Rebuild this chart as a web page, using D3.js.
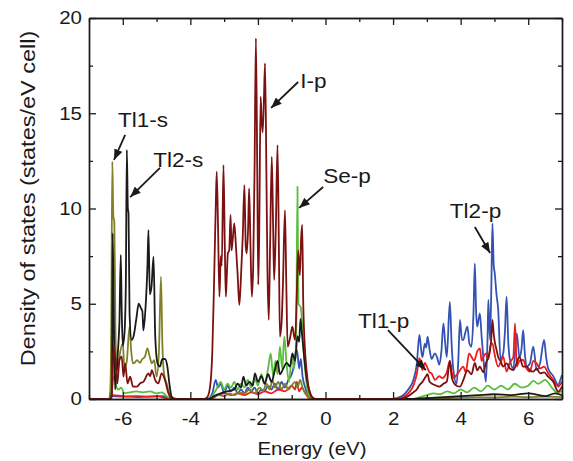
<!DOCTYPE html>
<html>
<head>
<meta charset="utf-8">
<script src="https://d3js.org/d3.v7.min.js"></script>
<style>
  body { margin: 0; background: #fff; }
  text { font-family: "Liberation Sans", Arial, sans-serif; fill: #1a1a1a; }
</style>
</head>
<body>
<div id="chart"></div>
<script>
const margin = {top: 18, right: 11, bottom: 62, left: 89},
      width = 573 - margin.left - margin.right,
      height = 461 - margin.top - margin.bottom;

const STRETCH = 1.1;

const xMajorTicks = [-6, -4, -2, 0, 2, 4, 6];
const xMinorTicks = [-7, -5, -3, -1, 1, 3, 5, 7];
const yMajorTicks = [0, 5, 10, 15, 20];
const yMinorTicks = [2.5, 7.5, 12.5, 17.5];

// Tl1-s (olive)
const tl1s = [[-7,0],[-6.42,0],[-6.37,0.4],[-6.34,4.0],[-6.31,12.46],[-6.28,9.6],[-6.25,9.3],[-6.22,4.0],
  [-6.19,1.87],[-6.15,1.5],[-6.1,2.2],[-6.0,2.92],[-5.95,1.6],[-5.88,2.0],[-5.8,3.8],[-5.75,2.5],
  [-5.7,1.87],[-5.65,1.9],[-5.58,2.04],[-5.49,1.9],[-5.42,2.1],[-5.35,2.2],[-5.27,2.66],[-5.2,2.2],
  [-5.14,1.87],[-5.07,2.04],[-5.0,1.17],[-4.93,2.5],[-4.87,6.42],[-4.83,3.0],[-4.78,1.34],[-4.7,0.8],
  [-4.62,0.3],[-4.5,0.05],[-4.3,0],
  [-3.45,0],[-3.3,0.1],[-3.15,0.2],[-3.0,0.15],[-2.85,0.3],[-2.7,0.2],[-2.55,0.35],[-2.4,0.3],
  [-2.25,0.5],[-2.1,0.3],[-1.95,0.6],[-1.85,0.4],[-1.75,0.8],[-1.65,0.5],[-1.57,1.0],[-1.5,0.6],
  [-1.4,0.9],[-1.3,0.5],[-1.2,0.8],[-1.1,0.5],[-1.0,0.7],[-0.9,0.9],[-0.83,0.6],[-0.75,1.0],
  [-0.68,0.6],[-0.58,0.3],[-0.45,0.05],[-0.3,0],
  [2.5,0],[3,0.05],[3.5,0.05],[4,0.08],[4.5,0.1],[5,0.08],[5.5,0.12],[6,0.1],[6.5,0.12],[7,0.1]];

// Tl2-s (black)
const tl2s = [[-7,0],[-6.36,0],[-6.32,0.5],[-6.3,8.7],[-6.27,5.0],[-6.23,0.5],[-6.18,1.5],[-6.13,2.9],
  [-6.1,4.0],[-6.06,7.56],[-6.03,4.5],[-6.0,2.8],[-5.95,3.45],[-5.91,6.0],[-5.88,13.07],[-5.85,10.0],
  [-5.83,9.75],[-5.8,4.5],[-5.74,3.1],[-5.68,3.3],[-5.6,4.2],[-5.53,5.0],[-5.47,4.8],[-5.42,4.6],
  [-5.39,3.6],[-5.33,4.7],[-5.27,7.0],[-5.24,8.87],[-5.2,5.5],[-5.15,5.9],[-5.09,7.47],[-5.04,3.3],
  [-4.97,1.87],[-4.9,1.7],[-4.83,2.1],[-4.75,2.1],[-4.68,1.7],[-4.62,0.8],[-4.55,0.1],[-4.45,0],
  [-3.45,0],[-3.3,0.15],[-3.1,0.3],[-2.9,0.4],[-2.7,0.5],[-2.6,0.8],[-2.5,0.6],[-2.43,1.17],
  [-2.35,0.7],[-2.25,0.9],[-2.15,0.7],[-2.09,1.35],[-2.0,0.9],[-1.9,1.2],[-1.8,0.8],[-1.7,1.3],
  [-1.6,0.9],[-1.5,1.5],[-1.42,2.0],[-1.35,1.3],[-1.25,1.6],[-1.15,1.9],[-1.05,1.7],[-0.98,2.4],
  [-0.9,2.0],[-0.83,3.3],[-0.78,3.0],[-0.74,4.2],[-0.7,3.5],[-0.62,2.0],[-0.55,1.0],[-0.45,0.3],
  [-0.35,0],
  [2.5,0],[3.0,0.05],[3.5,0.1],[4.0,0.15],[4.5,0.2],[5.0,0.25],[5.5,0.2],[6.0,0.3],[6.5,0.15],
  [6.8,0.3],[7.0,0.2]];

// I-p (maroon)
const ip = [[-7,0],[-6.38,0],[-6.33,0.1],[-6.26,2.84],[-6.2,1.52],[-6.16,0.82],[-6.1,2.04],[-6.03,2.22],
  [-5.98,1.17],[-5.93,1.87],[-5.86,0.82],[-5.78,1.17],[-5.7,0.65],[-5.58,0.65],[-5.49,0.82],
  [-5.39,0.9],[-5.24,1.34],[-5.19,1.2],[-5.14,1.52],[-5.04,0.99],[-4.95,0.82],[-4.85,1.34],
  [-4.75,0.99],[-4.65,0.3],[-4.55,0],
  [-3.6,0],[-3.5,0.1],[-3.42,0.6],[-3.35,2.5],[-3.3,6.0],[-3.25,10.0],[-3.22,11.93],[-3.18,9.0],
  [-3.14,5.37],[-3.1,7.5],[-3.07,7.0],[-3.02,12.28],[-2.98,8.0],[-2.95,5.37],[-2.92,6.5],[-2.89,7.65],
  [-2.85,7.8],[-2.81,9.66],[-2.78,7.8],[-2.74,8.5],[-2.7,9.22],[-2.65,8.0],[-2.6,6.5],[-2.55,4.94],
  [-2.5,6.5],[-2.45,8.5],[-2.4,11.23],[-2.36,8.0],[-2.33,7.65],[-2.29,9.0],[-2.26,11.05],[-2.22,8.0],
  [-2.18,5.37],[-2.14,7.0],[-2.1,12.0],[-2.06,18.93],[-2.02,12.0],[-1.99,6.0],[-1.96,9.0],
  [-1.92,15.87],[-1.89,14.6],[-1.86,14.0],[-1.82,15.9],[-1.79,17.62],[-1.75,12.0],[-1.72,7.0],
  [-1.68,4.15],[-1.64,8.0],[-1.59,12.72],[-1.55,9.0],[-1.52,6.25],[-1.47,9.0],[-1.42,13.33],
  [-1.38,8.0],[-1.35,3.27],[-1.3,4.0],[-1.26,6.0],[-1.2,9.91],[-1.16,6.0],[-1.12,2.75],[-1.05,3.2],
  [-0.98,3.8],[-0.93,3.3],[-0.9,3.1],[-0.85,5.5],[-0.81,7.8],[-0.76,6.5],[-0.72,8.5],[-0.69,9.14],
  [-0.66,5.2],[-0.62,3.0],[-0.56,1.5],[-0.5,0.6],[-0.42,0.15],[-0.3,0],
  [2.2,0],[2.4,0.1],[2.6,0.35],[2.7,0.5],[2.78,0.73],[2.87,0.9],[2.94,1.1],[3.02,1.3],[3.08,0.9],
  [3.14,0.82],[3.24,0.73],[3.37,0.65],[3.49,0.8],[3.59,0.91],[3.68,2.0],[3.73,1.2],[3.78,0.9],
  [3.88,0.7],[3.98,0.65],[4.08,1.0],[4.2,1.5],[4.32,1.3],[4.42,1.9],[4.49,1.5],[4.57,1.7],[4.67,1.4],
  [4.75,1.9],[4.82,2.2],[4.9,3.0],[4.94,4.15],[4.98,3.4],[5.01,3.0],[5.06,2.6],[5.11,2.22],[5.18,2.0],
  [5.26,1.7],[5.36,1.87],[5.46,1.6],[5.56,1.52],[5.66,1.9],[5.74,2.22],[5.85,1.7],[5.95,1.7],
  [6.05,1.5],[6.15,1.44],[6.25,1.6],[6.35,1.35],[6.47,1.4],[6.59,1.17],[6.74,0.9],[6.89,0.39],
  [7.0,0.65]];

// Se-p (green)
const sep = [[-7,0],[-6.4,0],[-6.33,0.3],[-6.3,0.9],[-6.25,1.2],[-6.2,0.7],[-6.13,0.5],[-6.05,0.6],
  [-5.95,0.3],[-5.8,0.35],[-5.6,0.4],[-5.4,0.35],[-5.2,0.4],[-5.0,0.3],[-4.85,0.35],[-4.7,0.15],
  [-4.55,0],
  [-3.45,0],[-3.3,0.3],[-3.2,0.6],[-3.1,0.9],[-3.0,0.5],[-2.9,0.8],[-2.8,0.6],[-2.7,0.9],[-2.6,0.5],
  [-2.5,0.8],[-2.4,0.6],[-2.3,1.0],[-2.2,0.6],[-2.1,1.1],[-2.0,0.7],[-1.9,1.3],[-1.8,0.8],[-1.7,1.6],
  [-1.62,2.4],[-1.55,1.2],[-1.48,2.0],[-1.42,1.3],[-1.35,2.75],[-1.28,1.6],[-1.22,3.27],[-1.15,1.8],
  [-1.08,0.9],[-1.0,2.2],[-0.93,1.6],[-0.87,3.0],[-0.83,11.15],[-0.8,5.0],[-0.73,4.8],[-0.65,2.6],
  [-0.56,0.8],[-0.46,0.1],[-0.35,0],
  [2.6,0],[2.8,0.1],[3.0,0.2],[3.2,0.3],[3.4,0.25],[3.6,0.4],[3.8,0.3],[4.0,0.5],[4.2,0.35],
  [4.4,0.6],[4.6,0.4],[4.8,0.7],[5.0,0.5],[5.2,0.7],[5.4,0.5],[5.6,0.8],[5.8,0.6],[6.0,0.7],
  [6.15,0.95],[6.3,0.8],[6.5,1.0],[6.7,0.6],[6.85,0.35],[7.0,0.4]];

// Tl2-p (blue)
const tl2p = [[-7,0],[-6.4,0],[-6.3,0.15],[-6.0,0.12],[-5.6,0.15],[-5.2,0.12],[-4.8,0.15],[-4.6,0],
  [-3.5,0],[-3.35,0.3],[-3.25,1.0],[-3.18,0.6],[-3.1,0.8],[-3.0,0.3],[-2.9,0.7],[-2.8,0.4],[-2.7,0.6],
  [-2.6,0.3],[-2.5,0.5],[-2.4,0.3],[-2.3,0.6],[-2.2,0.4],[-2.1,0.6],[-2.0,0.3],[-1.9,0.5],[-1.8,0.4],
  [-1.7,0.7],[-1.6,0.5],[-1.5,0.8],[-1.4,0.5],[-1.3,0.9],[-1.2,0.6],[-1.1,1.0],[-1.0,1.3],[-0.93,1.8],
  [-0.87,2.6],[-0.83,2.4],[-0.78,1.6],[-0.73,2.1],[-0.68,1.2],[-0.6,0.6],[-0.5,0.2],[-0.4,0],
  [1.9,0],[2.1,0.05],[2.3,0.2],[2.45,0.5],[2.6,1.0],[2.7,1.8],[2.78,3.36],[2.83,2.6],[2.87,2.2],
  [2.94,2.9],[2.98,2.7],[3.02,3.27],[3.08,2.6],[3.14,2.1],[3.24,2.4],[3.3,2.2],[3.37,1.8],[3.43,2.5],
  [3.49,3.97],[3.54,3.0],[3.59,2.2],[3.68,5.1],[3.73,3.0],[3.78,1.6],[3.88,0.8],[3.93,2.0],[3.98,4.15],
  [4.04,3.1],[4.08,3.1],[4.14,3.5],[4.2,3.8],[4.26,2.9],[4.32,2.75],[4.38,4.5],[4.42,7.12],[4.46,4.5],
  [4.49,3.8],[4.57,4.5],[4.62,3.3],[4.67,2.2],[4.75,0.9],[4.8,3.5],[4.82,5.2],[4.87,3.1],[4.91,6.0],
  [4.94,9.22],[4.98,7.0],[5.01,6.6],[5.06,5.5],[5.11,4.75],[5.18,2.1],[5.26,2.4],[5.31,3.5],
  [5.36,5.37],[5.41,3.0],[5.46,2.05],[5.56,1.6],[5.66,3.45],[5.74,2.2],[5.8,2.6],[5.85,3.62],
  [5.9,2.4],[5.95,1.7],[6.05,1.87],[6.15,2.75],[6.25,1.52],[6.35,1.87],[6.47,3.1],[6.53,2.2],
  [6.59,1.6],[6.74,1.2],[6.89,0.73],[6.95,1.0],[7.0,1.26]];

// Tl1-p (red)
const tl1p = [[-7,0],[-6.4,0],[-6.3,0.2],[-6.0,0.15],[-5.5,0.1],[-5.0,0.15],[-4.6,0],
  [-3.4,0],[-3.2,0.2],[-3.0,0.3],[-2.8,0.2],[-2.6,0.3],[-2.4,0.2],[-2.2,0.35],[-2.0,0.25],[-1.8,0.4],
  [-1.6,0.3],[-1.4,0.5],[-1.2,0.4],[-1.0,0.7],[-0.9,0.5],[-0.85,0.9],[-0.78,0.4],[-0.7,0.6],
  [-0.6,0.3],[-0.45,0],
  [2.0,0],[2.3,0.1],[2.5,0.4],[2.6,0.7],[2.7,1.3],[2.78,2.14],[2.83,1.8],[2.87,1.52],[2.94,1.9],
  [3.0,1.7],[3.08,1.4],[3.14,1.35],[3.24,1.0],[3.37,1.2],[3.45,1.1],[3.59,1.4],[3.68,2.0],[3.75,1.3],
  [3.78,1.1],[3.9,1.3],[4.08,1.7],[4.15,1.4],[4.25,2.4],[4.32,2.22],[4.4,2.0],[4.49,2.5],[4.57,2.66],
  [4.62,2.0],[4.67,2.2],[4.75,2.4],[4.82,2.1],[4.9,2.9],[4.94,2.92],[5.0,2.4],[5.11,1.7],[5.2,2.0],
  [5.26,2.22],[5.36,1.44],[5.45,1.9],[5.56,2.2],[5.61,3.97],[5.66,1.7],[5.74,2.0],[5.85,2.05],
  [5.95,1.6],[6.05,1.44],[6.15,2.0],[6.25,1.87],[6.35,1.6],[6.47,1.7],[6.59,1.35],[6.74,1.0],
  [6.89,0.65],[7.0,0.91]];

// draw order: back to front
const series = [
  {name: "Tl2-p", values: tl2p, color: "#3452b4"},
  {name: "Tl1-p", values: tl1p, color: "#ee1c1c"},
  {name: "Se-p",  values: sep,  color: "#5cbd3c"},
  {name: "Tl1-s", values: tl1s, color: "#808028"},
  {name: "Tl2-s", values: tl2s, color: "#1a1a1a"},
  {name: "I-p",   values: ip,   color: "#7d1010"}
];

// label position [E, dos], arrow from [E, dos] to [E, dos]
const labelNames = ["Tl1-s", "Tl2-s", "I-p", "Se-p", "Tl2-p", "Tl1-p"];
const labelPos   = [[-6.14,14.28], [-5.10,12.18], [-0.75,16.33], [-0.07,11.34], [3.68,9.50], [0.96,3.73]];
const arrowFrom  = [[-5.93,13.86], [-4.90,12.13], [-0.81,16.64], [-0.07,11.13], [4.42,9.03], [1.85,3.62]];
const arrowTo    = [[-6.26,12.55], [-5.78,10.60], [-1.61,15.28], [-0.78,10.03], [4.87,7.66], [2.97,1.52]];

const svg = d3.select("#chart")
  .append("svg")
  .attr("width", width + margin.left + margin.right)
  .attr("height", height + margin.top + margin.bottom);

const g = svg.append("g")
  .attr("transform", `translate(${margin.left},${margin.top})`);

const x = d3.scaleLinear().domain([-7, 7]).range([0, width]);
const y = d3.scaleLinear().domain([0, 20]).range([height, 0]);

g.append("clipPath").attr("id", "clip")
  .append("rect").attr("width", width).attr("height", height);

const line = d3.line()
  .x(d => x(d[0]))
  .y(d => y(d[1]))
  .curve(d3.curveMonotoneX);

g.append("g").attr("clip-path", "url(#clip)")
  .selectAll("path.dos")
  .data(series)
  .join("path")
  .attr("class", "dos")
  .attr("fill", "none")
  .attr("stroke", d => d.color)
  .attr("stroke-width", 1.8)
  .attr("stroke-linejoin", "round")
  .attr("d", d => line(d.values));

// axes, ticks pointing inward on all four sides
function styleAxis(sel) {
  sel.select(".domain").attr("stroke", "#1a1a1a").attr("stroke-width", 1.4);
  sel.selectAll(".tick line").attr("stroke", "#1a1a1a").attr("stroke-width", 1.3);
  sel.selectAll("text").style("font-size", "18.6px").attr("fill", "#1a1a1a")
    .style("font-family", "'Liberation Sans', Arial, sans-serif");
}

const plainNum = d => String(d);   // keeps the plain hyphen minus like the original

const xBottom = g.append("g").attr("transform", `translate(0,${height})`)
  .call(d3.axisBottom(x).tickValues(xMajorTicks).tickSize(-7).tickSizeOuter(0).tickPadding(13)
    .tickFormat(plainNum));
xBottom.call(styleAxis);
xBottom.selectAll("text").attr("transform", `scale(${STRETCH},1)`);
g.append("g").attr("transform", `translate(0,${height})`)
  .call(d3.axisBottom(x).tickValues(xMinorTicks).tickSize(-4).tickSizeOuter(0).tickFormat(""))
  .call(styleAxis);

g.append("g")
  .call(d3.axisTop(x).tickValues(xMajorTicks).tickSize(-7).tickSizeOuter(0).tickFormat(""))
  .call(styleAxis);
g.append("g")
  .call(d3.axisTop(x).tickValues(xMinorTicks).tickSize(-4).tickSizeOuter(0).tickFormat(""))
  .call(styleAxis);

const yLeft = g.append("g")
  .call(d3.axisLeft(y).tickValues(yMajorTicks).tickSize(-7).tickSizeOuter(0).tickPadding(6.4)
    .tickFormat(plainNum));
yLeft.call(styleAxis);
yLeft.selectAll("text").attr("transform", `scale(${STRETCH},1)`);
g.append("g")
  .call(d3.axisLeft(y).tickValues(yMinorTicks).tickSize(-4).tickSizeOuter(0).tickFormat(""))
  .call(styleAxis);

g.append("g").attr("transform", `translate(${width},0)`)
  .call(d3.axisRight(y).tickValues(yMajorTicks).tickSize(-7).tickSizeOuter(0).tickFormat(""))
  .call(styleAxis);
g.append("g").attr("transform", `translate(${width},0)`)
  .call(d3.axisRight(y).tickValues(yMinorTicks).tickSize(-4).tickSizeOuter(0).tickFormat(""))
  .call(styleAxis);

// axis titles
g.append("text")
  .attr("text-anchor", "middle")
  .attr("transform", `translate(${width / 2 - 13.5},${height + 56}) scale(${STRETCH},1)`)
  .style("font-size", "18.6px")
  .text("Energy (eV)");

g.append("text")
  .attr("text-anchor", "middle")
  .attr("transform", `translate(${35 - margin.left},${height / 2 - 10}) rotate(-90) scale(1.12,1)`)
  .style("font-size", "21px")
  .text("Density of states (states/eV cell)");

// annotations
svg.append("defs").append("marker")
  .attr("id", "arrowhead")
  .attr("viewBox", "0 0 10 8")
  .attr("refX", 10).attr("refY", 4)
  .attr("markerUnits", "userSpaceOnUse")
  .attr("markerWidth", 11).attr("markerHeight", 8.5)
  .attr("orient", "auto")
  .append("path")
  .attr("d", "M0,0 L10,4 L0,8 Z")
  .attr("fill", "#1a1a1a");

g.selectAll("line.arrow")
  .data(labelNames)
  .join("line")
  .attr("class", "arrow")
  .attr("x1", (d, i) => x(arrowFrom[i][0]))
  .attr("y1", (d, i) => y(arrowFrom[i][1]))
  .attr("x2", (d, i) => x(arrowTo[i][0]))
  .attr("y2", (d, i) => y(arrowTo[i][1]))
  .attr("stroke", "#1a1a1a")
  .attr("stroke-width", 1.8)
  .attr("marker-end", "url(#arrowhead)");

g.selectAll("text.label")
  .data(labelNames)
  .join("text")
  .attr("class", "label")
  .attr("transform", (d, i) => `translate(${x(labelPos[i][0])},${y(labelPos[i][1])}) scale(${STRETCH},1)`)
  .style("font-size", "20.5px")
  .text(d => d);
</script>
</body>
</html>
